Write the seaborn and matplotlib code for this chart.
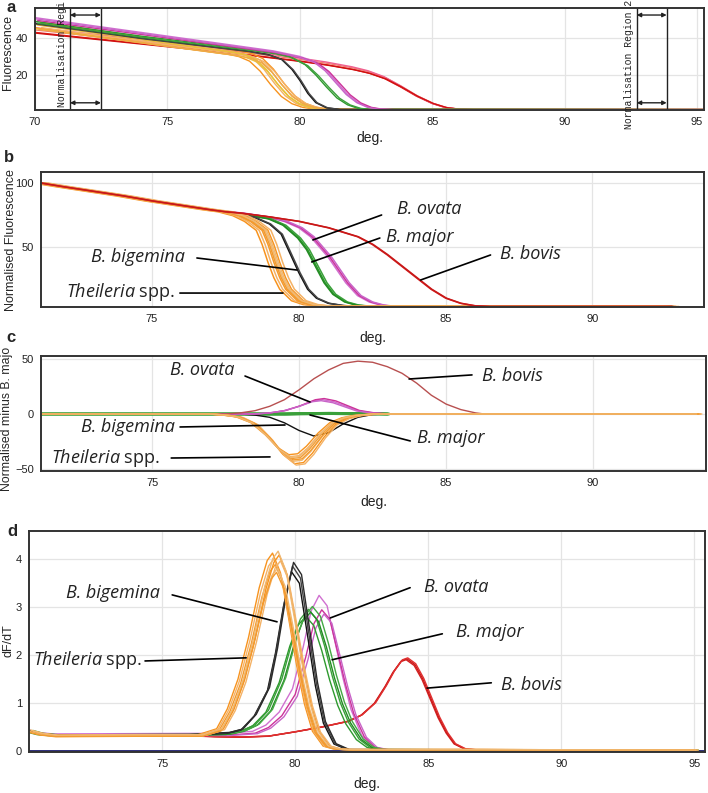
import numpy as np
import pandas as pd
import matplotlib
matplotlib.use("Agg")
import matplotlib.pyplot as plt
import seaborn as sns

sns.set_theme(style="white")
plt.rcParams["font.family"] = ["Liberation Sans", "DejaVu Sans"]
plt.rcParams["mathtext.fontset"] = "custom"
plt.rcParams["mathtext.it"] = "Open Sans:italic"
plt.rcParams["mathtext.rm"] = "Open Sans"

# ---------------- data ----------------
SPECIES = ["B. ovata", "B. major", "B. bovis", "B. bigemina", "Theileria spp."]

# panel a : raw fluorescence
A_THEI_T = [70, 72, 74, 76, 77, 77.6, 78.0, 78.4, 78.8, 79.2, 79.6, 80.0, 80.4, 80.8, 81.5, 95.3]
A_THEI_F = [47, 43, 39, 35, 33, 31.8, 30.5, 28, 22.5, 15, 8.5, 4.5, 2.5, 1.6, 1.3, 1.2]
A_THEI_SHIFT = [-0.3, -0.15, 0.0, 0.1, 0.2, 0.25, -0.05, 0.15]
A_THEI_SCALE = [0.98, 1.02, 0.96, 1.0, 1.03, 0.97, 1.01, 0.95]
A_BIGE_T = [70, 72, 74, 76, 78, 78.8, 79.3, 79.7, 80.0, 80.3, 80.6, 81.0, 81.5, 95.3]
A_BIGE_F = [48, 44, 40, 36.5, 33, 31, 28.5, 23, 17, 10, 5, 2.2, 1.3, 1.2]
A_BIGE_SHIFT = [0.0, 0.05]
A_BIGE_SCALE = [1.0, 0.99]
A_MAJ_T = [70, 72, 74, 76, 78, 79, 79.6, 80.2, 80.6, 81.0, 81.4, 81.8, 82.2, 82.6, 95.3]
A_MAJ_F = [49, 45, 41, 37.5, 34, 32, 30, 25.5, 20, 13.5, 7.5, 3.8, 1.9, 1.3, 1.2]
A_MAJ_SHIFT = [0.0, 0.1]
A_MAJ_SCALE = [1.0, 0.98]
A_OVA_T = [70, 72, 74, 76, 78, 79, 80, 80.6, 81.0, 81.4, 81.8, 82.2, 82.6, 83.0, 83.5, 95.3]
A_OVA_F = [51, 47, 43, 39, 35, 33, 30, 27, 22.5, 16, 9.5, 5, 2.5, 1.5, 1.2, 1.2]
A_OVA_SHIFT = [0.0, 0.1, -0.05]
A_OVA_SCALE = [1.0, 0.97, 0.99]
A_BOV_T = [70, 72, 74, 76, 78, 80, 81, 82, 82.6, 83.2, 83.8, 84.4, 85.0, 85.5, 86.0, 86.5, 95.3]
A_BOV_F = [43, 40, 37, 34, 31, 27.5, 25.5, 23, 21, 18, 13.5, 8.5, 4.5, 2.3, 1.4, 1.2, 1.2]
A_BOV_SHIFT = [0.0, 0.03, -0.03, 0.05]
A_BOV_SCALE = [1.0, 1.03, 1.06, 0.99]

# panel b : normalised fluorescence
B_THEI_T = [71.2, 72, 73, 74, 75, 76, 77, 77.5, 78.0, 78.4, 78.8, 79.0, 79.2, 79.4, 79.6, 80.0, 80.4, 80.8, 81.2, 92.7]
B_THEI_V = [100, 97, 93.5, 90, 86, 82.5, 79, 77.5, 74.5, 70, 63, 52, 38, 26, 17, 8, 5, 4, 3.6, 3.5]
B_THEI_SHIFT = [-0.25, -0.15, -0.05, 0.05, 0.15, 0.25, 0.0, 0.1]
B_BIGE_T = [71.2, 72, 73, 74, 75, 76, 77, 77.5, 78.0, 78.5, 79.0, 79.4, 79.7, 80.0, 80.3, 80.6, 81.0, 81.5, 82.0, 92.7]
B_BIGE_V = [100, 97, 93.5, 90, 86, 82.5, 79, 77.5, 75.5, 73, 68, 60, 45, 30, 17, 10, 6, 4.2, 3.6, 3.5]
B_BIGE_SHIFT = [0.0, 0.04]
B_MAJ_T = [71.2, 72, 73, 74, 75, 76, 77, 77.5, 78.0, 78.5, 79.0, 79.5, 80.0, 80.3, 80.6, 80.9, 81.2, 81.6, 82.0, 82.5, 92.7]
B_MAJ_V = [100, 97, 93.5, 90, 86, 82.5, 79, 77.5, 76, 74, 72, 67, 57, 48, 35, 22, 13, 7, 4.5, 3.6, 3.5]
B_MAJ_SHIFT = [0.0, 0.06, -0.04]
B_OVA_T = [71.2, 72, 73, 74, 75, 76, 77, 77.5, 78.0, 79.0, 79.5, 80.0, 80.4, 80.7, 81.0, 81.3, 81.6, 82.0, 82.4, 82.8, 83.2, 92.7]
B_OVA_V = [100, 97, 93.5, 90, 86, 82.5, 79, 77.5, 76.5, 73, 70, 65, 58, 50, 42, 32, 22, 12, 7, 4.5, 3.6, 3.5]
B_OVA_SHIFT = [0.0, 0.06, 0.12]
B_BOV_T = [71.2, 72, 73, 74, 75, 76, 77, 77.5, 78.0, 79.0, 80.0, 81.0, 82.0, 82.5, 83.0, 83.5, 84.0, 84.5, 85.0, 85.5, 86.0, 86.5, 92.7]
B_BOV_V = [100, 97, 93.5, 90, 86, 82.5, 79, 77.5, 76.5, 73.5, 70, 65, 58, 52, 44, 35, 26, 17, 10, 6, 4, 3.5, 3.5]
B_BOV_SHIFT = [0.0, 0.03]

# panel c : normalised minus B. major
C_THEI_T = [71.2, 77.0, 77.5, 78.0, 78.5, 79.0, 79.4, 79.8, 80.1, 80.4, 80.8, 81.2, 81.6, 82.0, 82.6, 93.6]
C_THEI_V = [0, 0, -1, -3, -9, -22, -35, -43, -42, -34, -20, -9, -4, -1.5, 0, 0]
C_THEI_SHIFT = [-0.15, -0.1, -0.05, 0.0, 0.05, 0.1, 0.0, -0.08]
C_THEI_SCALE = [0.86, 0.9, 0.94, 1.0, 1.05, 1.08, 0.97, 0.92]
C_BIGE_T = [71.2, 78.0, 78.5, 79.0, 79.5, 80.0, 80.5, 81.0, 81.5, 82.0, 82.5, 83.0]
C_BIGE_V = [0, 0, -1, -3, -8, -15, -20, -17, -9, -3, -0.5, 0]
C_MAJ_T = [71.2, 79.5, 80.0, 81.0, 82.0, 82.6, 83.0]
C_MAJ_V = [0, 0, 0.3, 0.5, 0.3, 0.2, 0]
C_OVA_T = [71.2, 78.5, 79.0, 79.5, 80.0, 80.5, 80.8, 81.2, 81.6, 82.0, 82.5, 83.0]
C_OVA_V = [0, 0, 1, 3, 7, 12, 13, 11, 7, 3, 1, 0]
C_OVA_SCALE = [1.0, 1.08, 0.93]
C_BOV_T = [71.2, 77.5, 78.0, 78.5, 79.0, 79.5, 80.0, 80.5, 81.0, 81.5, 82.0, 82.5, 83.0, 83.5, 84.0, 84.5, 85.0, 85.5, 86.0, 86.3]
C_BOV_V = [0, 0, 1, 3, 7, 13, 22, 32, 40, 46, 48, 47, 43, 37, 28, 17, 9, 4, 1, 0]

# panel d : dF/dT
D_THEI_T = [70, 70.4, 71, 74, 76.5, 77.2, 77.6, 78.0, 78.4, 78.8, 79.1, 79.3, 79.6, 79.9, 80.2, 80.5, 80.8, 81.2, 81.6, 82, 87, 95]
D_THEI_V = [0.42, 0.36, 0.32, 0.33, 0.33, 0.45, 0.85, 1.45, 2.3, 3.3, 3.85, 4.0, 3.6, 2.7, 1.75, 0.95, 0.4, 0.1, 0.04, 0.03, 0.03, 0.02]
D_THEI_SHIFT = [-0.15, -0.1, -0.05, 0.03, 0.1, 0.15, 0.0, 0.06]
D_THEI_SCALE = [1.03, 1.0, 0.97, 0.95, 1.02, 0.99, 0.93, 1.04]
D_BIGE_T = [70, 70.4, 71, 76, 77.5, 78.0, 78.5, 79.0, 79.3, 79.6, 79.9, 80.2, 80.5, 80.8, 81.1, 81.5, 82, 95]
D_BIGE_V = [0.42, 0.36, 0.33, 0.34, 0.38, 0.45, 0.75, 1.3, 2.1, 3.1, 3.85, 3.6, 2.5, 1.4, 0.6, 0.15, 0.03, 0.02]
D_BIGE_SHIFT = [-0.04, 0.0, 0.04]
D_BIGE_SCALE = [0.97, 1.0, 1.02]
D_MAJ_T = [70, 70.4, 71, 76, 77.5, 78.0, 78.5, 79.0, 79.5, 79.9, 80.2, 80.5, 80.8, 81.1, 81.4, 81.7, 82.0, 82.4, 82.8, 83.2, 95]
D_MAJ_V = [0.42, 0.36, 0.33, 0.34, 0.36, 0.42, 0.55, 0.85, 1.5, 2.3, 2.75, 2.95, 2.75, 2.2, 1.55, 1.0, 0.6, 0.25, 0.08, 0.03, 0.02]
D_MAJ_SHIFT = [-0.1, 0.0, 0.08, 0.15]
D_MAJ_SCALE = [0.95, 1.0, 0.98, 1.02]
D_OVA_T = [70, 70.4, 71, 76, 77.5, 78.5, 79.0, 79.5, 80.0, 80.4, 80.7, 81.0, 81.3, 81.6, 81.9, 82.2, 82.6, 83.0, 83.5, 95]
D_OVA_V = [0.42, 0.36, 0.33, 0.34, 0.34, 0.38, 0.5, 0.75, 1.2, 2.0, 2.7, 3.0, 2.8, 2.1, 1.4, 0.8, 0.3, 0.08, 0.02, 0.02]
D_OVA_SHIFT = [-0.1, 0.0, 0.08]
D_OVA_SCALE = [1.08, 0.98, 0.95]
D_BOV_T = [70, 70.4, 71, 76, 77, 78, 79, 80, 81, 82, 82.5, 83, 83.4, 83.7, 84.0, 84.2, 84.5, 84.8, 85.1, 85.4, 85.7, 86.0, 86.4, 87, 95]
D_BOV_V = [0.42, 0.35, 0.32, 0.32, 0.3, 0.29, 0.31, 0.4, 0.5, 0.62, 0.75, 1.0, 1.35, 1.65, 1.88, 1.92, 1.8, 1.5, 1.1, 0.7, 0.38, 0.15, 0.04, 0.02, 0.02]
D_BOV_SHIFT = [-0.03, 0.0, 0.03]
D_BOV_SCALE = [0.99, 1.0, 1.01]
D_NTC_T = [70, 95.4]
D_NTC_V = [0, 0]

# colours
THEI_COLORS = ["#f7931e", "#f4b266", "#f39a2e", "#efb872"]
A_THEI_COLORS = ["#f7931e", "#f4b266", "#e8c23a", "#f0a848"]
BIGE_COLORS = ["#111111", "#444444", "#2a2a2a"]
MAJ_COLORS = ["#2e9a2e", "#3aa03a", "#228b22", "#44a844"]
OVA_COLORS = ["#d070d0", "#cc3399", "#c864c8"]
BOV_COLORS = ["#d42020", "#c81818", "#e03030"]
A_BOV_COLORS = ["#e01c1c", "#f08070", "#f06090", "#d01010"]
C_BOV_COLORS = ["#b85050"]
NTC_COLOR = "#1a1a6e"


def build(curves):
    rows, pal = [], {}
    for name, T, V, shifts, scales, colors in curves:
        for i, (s, k) in enumerate(zip(shifts, scales)):
            cid = f"{name}_{i}"
            pal[cid] = colors[i % len(colors)]
            for t, v in zip(T, V):
                rows.append((cid, t + s, v * k))
    return pd.DataFrame(rows, columns=["curve", "T", "V"]), pal


W, H = 708, 793
fig = plt.figure(figsize=(W / 100, H / 100), dpi=100)


def add_ax(l, t, r, b):
    return fig.add_axes([l / W, 1 - b / H, (r - l) / W, (b - t) / H])


def style(ax, xticks, yticks, xlim, ylim):
    ax.set_xlim(*xlim)
    ax.set_ylim(*ylim)
    ax.set_xticks(xticks)
    ax.set_yticks(yticks)
    ax.grid(True, color="#e4e4e4", lw=0.9)
    ax.set_axisbelow(True)
    for sp in ax.spines.values():
        sp.set_color("#333333")
        sp.set_linewidth(1.4)
        sp.set_visible(True)
    ax.tick_params(length=0, labelsize=8, pad=5, colors="#222222")
    ax.set_xlabel("")
    ax.set_ylabel("")


def draw(ax, curves, lw):
    df, pal = build(curves)
    sns.lineplot(data=df, x="T", y="V", hue="curve", hue_order=list(pal.keys()),
                 palette=pal, estimator=None, sort=False, legend=False, lw=lw, ax=ax)


one = lambda n: [1.0] * n

# ---------------- panel a ----------------
axa = add_ax(35, 8, 704, 110)
draw(axa, [
    ("bov", A_BOV_T, A_BOV_F, A_BOV_SHIFT, A_BOV_SCALE, A_BOV_COLORS),
    ("thei", A_THEI_T, A_THEI_F, A_THEI_SHIFT, A_THEI_SCALE, A_THEI_COLORS),
    ("bige", A_BIGE_T, A_BIGE_F, A_BIGE_SHIFT, A_BIGE_SCALE, BIGE_COLORS),
    ("maj", A_MAJ_T, A_MAJ_F, A_MAJ_SHIFT, A_MAJ_SCALE, MAJ_COLORS),
    ("ova", A_OVA_T, A_OVA_F, A_OVA_SHIFT, A_OVA_SCALE, OVA_COLORS),
], lw=1.0)
style(axa, [70, 75, 80, 85, 90, 95], [20, 40], (70, 95.26), (1.0, 56.2))
# normalisation regions
for x0, x1 in [(71.32, 72.49), (92.72, 93.85)]:
    axa.axvline(x0, color="#222222", lw=1.0)
    axa.axvline(x1, color="#222222", lw=1.0)
    for yy in (52.4, 4.9):
        axa.annotate("", xy=(x0, yy), xytext=(x1, yy),
                     arrowprops=dict(arrowstyle="<|-|>", color="#222222", lw=1.0,
                                     mutation_scale=6, shrinkA=0, shrinkB=0))
axa.text(71.02, 2.7, "Normalisation Regi", rotation=90, ha="center", va="bottom",
         family="Liberation Mono", fontsize=7, clip_on=False, color="#222222")
axa.text(92.42, 25.5, "Normalisation Region 2", rotation=90, ha="center", va="center",
         family="Liberation Mono", fontsize=7, clip_on=False, color="#222222")

# ---------------- panel b ----------------
axb = add_ax(41, 172, 704, 307)
draw(axb, [
    ("ova", B_OVA_T, B_OVA_V, B_OVA_SHIFT, one(3), OVA_COLORS),
    ("maj", B_MAJ_T, B_MAJ_V, B_MAJ_SHIFT, one(3), MAJ_COLORS),
    ("bige", B_BIGE_T, B_BIGE_V, B_BIGE_SHIFT, one(2), BIGE_COLORS),
    ("thei", B_THEI_T, B_THEI_V, B_THEI_SHIFT, one(8), THEI_COLORS),
    ("bov", B_BOV_T, B_BOV_V, B_BOV_SHIFT, one(2), BOV_COLORS),
], lw=1.1)
style(axb, [75, 80, 85, 90], [50, 100], (71.22, 93.8), (3.1, 108.6))

# ---------------- panel c ----------------
axc = add_ax(41, 356, 706, 471)
draw(axc, [("maj", C_MAJ_T, C_MAJ_V, [0.0, 0.05], [1.0, 1.0], MAJ_COLORS)], lw=2.2)
draw(axc, [
    ("bige", C_BIGE_T, C_BIGE_V, [0.0], [1.0], BIGE_COLORS),
    ("ova", C_OVA_T, C_OVA_V, [0.0, 0.05, -0.05], C_OVA_SCALE, OVA_COLORS),
    ("bov", C_BOV_T, C_BOV_V, [0.0], [1.0], C_BOV_COLORS),
    ("thei", C_THEI_T, C_THEI_V, C_THEI_SHIFT, C_THEI_SCALE, THEI_COLORS),
], lw=1.0)
style(axc, [75, 80, 85, 90], [-50, 0, 50], (71.22, 93.84), (-51.8, 52.7))

# ---------------- panel d ----------------
axd = add_ax(29, 531, 705, 752)
draw(axd, [("ntc", D_NTC_T, D_NTC_V, [0.0], [1.0], [NTC_COLOR])], lw=2.0)
draw(axd, [
    ("bov", D_BOV_T, D_BOV_V, D_BOV_SHIFT, D_BOV_SCALE, BOV_COLORS),
    ("ova", D_OVA_T, D_OVA_V, D_OVA_SHIFT, D_OVA_SCALE, OVA_COLORS),
    ("maj", D_MAJ_T, D_MAJ_V, D_MAJ_SHIFT, D_MAJ_SCALE, MAJ_COLORS),
    ("bige", D_BIGE_T, D_BIGE_V, D_BIGE_SHIFT, D_BIGE_SCALE, BIGE_COLORS),
    ("thei", D_THEI_T, D_THEI_V, D_THEI_SHIFT, D_THEI_SCALE, THEI_COLORS),
], lw=1.0)
style(axd, [75, 80, 85, 90, 95], [0, 1, 2, 3, 4], (70.0, 95.4), (-0.02, 4.58))

# ---------------- labels ----------------
for ax, pad in zip((axa, axb, axc, axd), (3, 5, 5, 6)):
    ax.set_xlabel("deg.", fontsize=10, labelpad=pad, color="#222222")

fig.text(8 / W, 1 - 52 / H, "Fluorescence", rotation=90, ha="center", va="center", fontsize=9)
fig.text(11 / W, 1 - 240 / H, "Normalised Fluorescence", rotation=90, ha="center", va="center", fontsize=9)
fig.text(7 / W, 1 - 419 / H, "Normalised minus B. majo", rotation=90, ha="center", va="center", fontsize=8.8)
fig.text(9 / W, 1 - 641 / H, "dF/dT", rotation=90, ha="center", va="center", fontsize=9)

for lab, (px, py) in zip("abcd", [(11, 8), (9, 158), (11, 338), (12, 532)]):
    fig.text(px / W, 1 - py / H, lab, ha="center", va="center", fontsize=12, fontweight="bold")

# ---------------- annotations ----------------
def note(ax, name, text_xy, line_start, line_end, ha):
    if name.startswith("Theileria"):
        ax.text(text_xy[0], text_xy[1], r"$\mathit{Theileria}$ spp.", ha=ha, va="center",
                fontsize=13, family="Open Sans", color="#222222")
    else:
        ax.text(text_xy[0], text_xy[1], name, ha=ha, va="center", fontsize=13,
                family="Open Sans", fontstyle="italic", color="#222222")
    ax.annotate("", xy=line_end, xytext=line_start,
                arrowprops=dict(arrowstyle="-", color="black", lw=1.2, shrinkA=0, shrinkB=0))


note(axb, "B. ovata", (83.33, 79.5), (82.82, 75), (80.48, 55.5), "left")
note(axb, "B. major", (82.96, 57.5), (82.76, 57), (80.44, 38.3), "left")
note(axb, "B. bovis", (86.84, 44.5), (86.53, 43.75), (84.15, 24.2), "left")
note(axb, "B. bigemina", (76.12, 42), (76.53, 41.4), (79.93, 32), "right")
note(axb, "Theileria spp.", (75.78, 15), (75.95, 14), (79.46, 14), "right")

note(axc, "B. ovata", (75.61, 40), (78.16, 34.5), (80.37, 10.9), "left")
note(axc, "B. bigemina", (75.78, -11.8), (75.95, -11.8), (79.52, -10), "right")
note(axc, "Theileria spp.", (75.27, -40), (75.65, -40), (79.01, -39), "right")
note(axc, "B. major", (84.01, -21.8), (83.78, -24.5), (80.37, -0.9), "left")
note(axc, "B. bovis", (86.22, 34.5), (85.88, 35.5), (83.74, 31.8), "left")

note(axd, "B. bigemina", (74.92, 3.29), (75.38, 3.25), (79.32, 2.69), "right")
note(axd, "Theileria spp.", (74.25, 1.9), (74.36, 1.875), (78.16, 1.94), "right")
note(axd, "B. ovata", (84.85, 3.42), (84.32, 3.4), (81.32, 2.77), "left")
note(axd, "B. major", (86.05, 2.48), (85.53, 2.44), (81.39, 1.9), "left")
note(axd, "B. bovis", (87.74, 1.375), (87.37, 1.42), (84.96, 1.31), "left")

fig.savefig("out.png", dpi=100)
